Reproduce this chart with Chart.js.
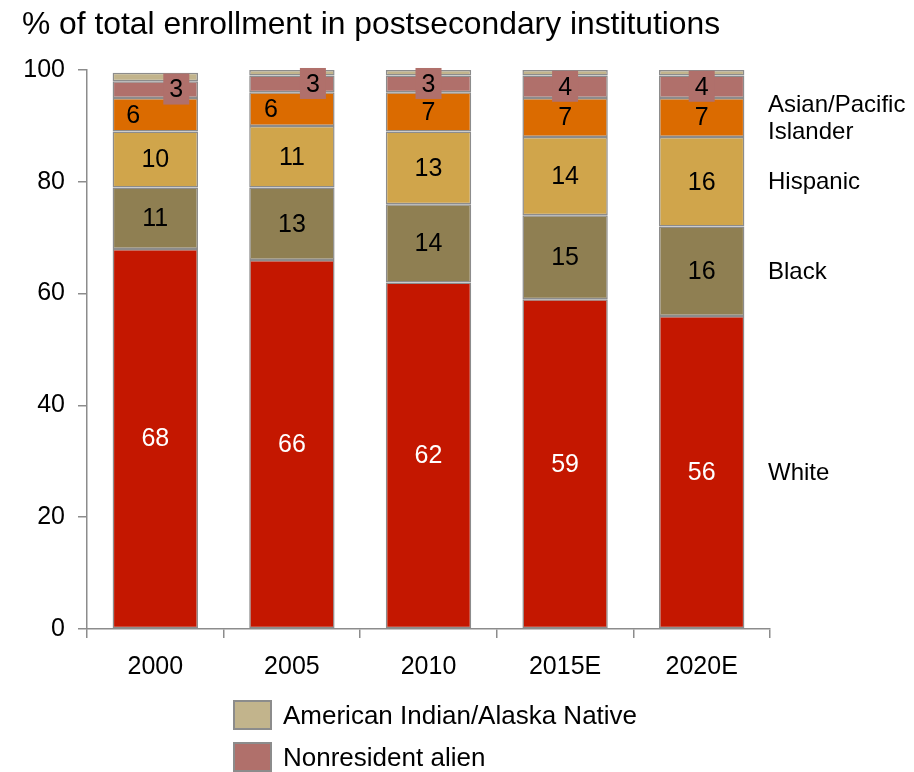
<!DOCTYPE html>
<html>
<head>
<meta charset="utf-8">
<script src="https://cdn.jsdelivr.net/npm/chart.js@4/dist/chart.umd.min.js"></script>
<style>
  html, body { margin: 0; padding: 0; background: #fff; }
  #wrap { width: 914px; height: 772px; position: relative; }
</style>
</head>
<body>
<div id="wrap"><canvas id="enrChart"></canvas></div>
<script>
const years = ['2000', '2005', '2010', '2015E', '2020E'];
const white = [68, 66, 62, 59, 56];
const black = [11, 13, 14, 15, 16];
const hispanic = [10, 11, 13, 14, 16];
const asian = [6, 6, 7, 7, 7];
const nonresident = [3, 3, 3, 4, 4];
const amIndian = [1.5, 1, 1, 1, 1];
const yTicks = [0, 20, 40, 60, 80, 100];

const FONT = "'Liberation Sans', Arial, sans-serif";
const EDGE = '#8c8c8c';

const series = [
  { label: 'White', data: white, color: '#c41700', side: ['White'], txt: '#fff' },
  { label: 'Black', data: black, color: '#8f7f52', side: ['Black'], txt: '#000' },
  { label: 'Hispanic', data: hispanic, color: '#d0a54b', side: ['Hispanic'], txt: '#000' },
  { label: 'Asian/Pacific Islander', data: asian, color: '#db6b00', side: ['Asian/Pacific', 'Islander'], txt: '#000' },
  { label: 'Nonresident alien', data: nonresident, color: '#b0706b', side: null, txt: '#000', boxed: true },
  { label: 'American Indian/Alaska Native', data: amIndian, color: '#c2b48c', side: null, txt: null }
];

// small nudges so the narrow top labels don't collide (dataset index -> bar index -> dx)
const nudge = { 3: { 0: -22, 1: -21 }, 4: { 0: 21, 1: 21 } };

const overlay = {
  id: 'overlay',
  afterDraw(chart) {
    const ctx = chart.ctx;
    ctx.save();
    // title
    ctx.fillStyle = '#000';
    ctx.font = '31.8px ' + FONT;
    ctx.textAlign = 'left';
    ctx.textBaseline = 'alphabetic';
    ctx.fillText('% of total enrollment in postsecondary institutions', 22, 34);

    // values inside segments
    ctx.font = '25px ' + FONT;
    ctx.textAlign = 'center';
    ctx.textBaseline = 'middle';
    series.forEach((s, di) => {
      if (!s.txt) return;
      chart.getDatasetMeta(di).data.forEach((el, i) => {
        const cx = el.x + ((nudge[di] && nudge[di][i]) || 0);
        const cy = (el.y + el.base) / 2;
        if (s.boxed) {
          ctx.fillStyle = s.color;
          ctx.fillRect(cx - 13, cy - 16, 26, 31);
        }
        ctx.fillStyle = s.txt;
        ctx.fillText(String(s.data[i]), cx, cy + 1);
      });
    });

    // segment names beside the last bar
    ctx.fillStyle = '#000';
    ctx.font = '24px ' + FONT;
    ctx.textAlign = 'left';
    const last = years.length - 1;
    series.forEach((s, di) => {
      if (!s.side) return;
      const el = chart.getDatasetMeta(di).data[last];
      const cy = (el.y + el.base) / 2;
      const lh = 27;
      s.side.forEach((t, k) => {
        ctx.fillText(t, 768, cy + 1 + (k - (s.side.length - 1) / 2) * lh);
      });
    });

    // legend for the two thin segments
    ctx.font = '26px ' + FONT;
    const legendItems = [series[5], series[4]];
    legendItems.forEach((s, k) => {
      const y = 701 + k * 42;
      ctx.fillStyle = s.color;
      ctx.fillRect(234, y, 37, 28);
      ctx.strokeStyle = EDGE;
      ctx.lineWidth = 2;
      ctx.strokeRect(234, y, 37, 28);
      ctx.fillStyle = '#000';
      ctx.fillText(s.label, 283, y + 16);
    });
    ctx.restore();
  }
};

new Chart(document.getElementById('enrChart'), {
  type: 'bar',
  data: {
    labels: years,
    datasets: series.map(s => ({
      label: s.label, data: s.data, backgroundColor: s.color,
      borderColor: EDGE, borderWidth: 1.5, borderSkipped: false,
      categoryPercentage: 1, barPercentage: 0.625
    }))
  },
  options: {
    responsive: true, maintainAspectRatio: false, animation: false,
    layout: { padding: { top: 70, right: 144, bottom: 83, left: 0 } },
    plugins: { legend: { display: false }, title: { display: false }, tooltip: { enabled: false } },
    scales: {
      x: {
        stacked: true,
        afterFit: s => { s.height = 60; },
        grid: { drawOnChartArea: false, tickLength: 9, color: EDGE, lineWidth: 1.5, offset: true },
        border: { color: EDGE, width: 1.5 },
        ticks: { font: { size: 25, family: FONT }, color: '#000', padding: 14 }
      },
      y: {
        stacked: true, min: 0, max: 100,
        afterFit: s => { s.width = 87; },
        afterBuildTicks: s => { s.ticks = yTicks.map(v => ({ value: v })); },
        grid: { drawOnChartArea: false, tickLength: 9, color: EDGE, lineWidth: 1.5 },
        border: { color: EDGE, width: 1.5 },
        ticks: { font: { size: 25, family: FONT }, color: '#000', padding: 13 }
      }
    }
  },
  plugins: [overlay]
});
</script>
</body>
</html>
